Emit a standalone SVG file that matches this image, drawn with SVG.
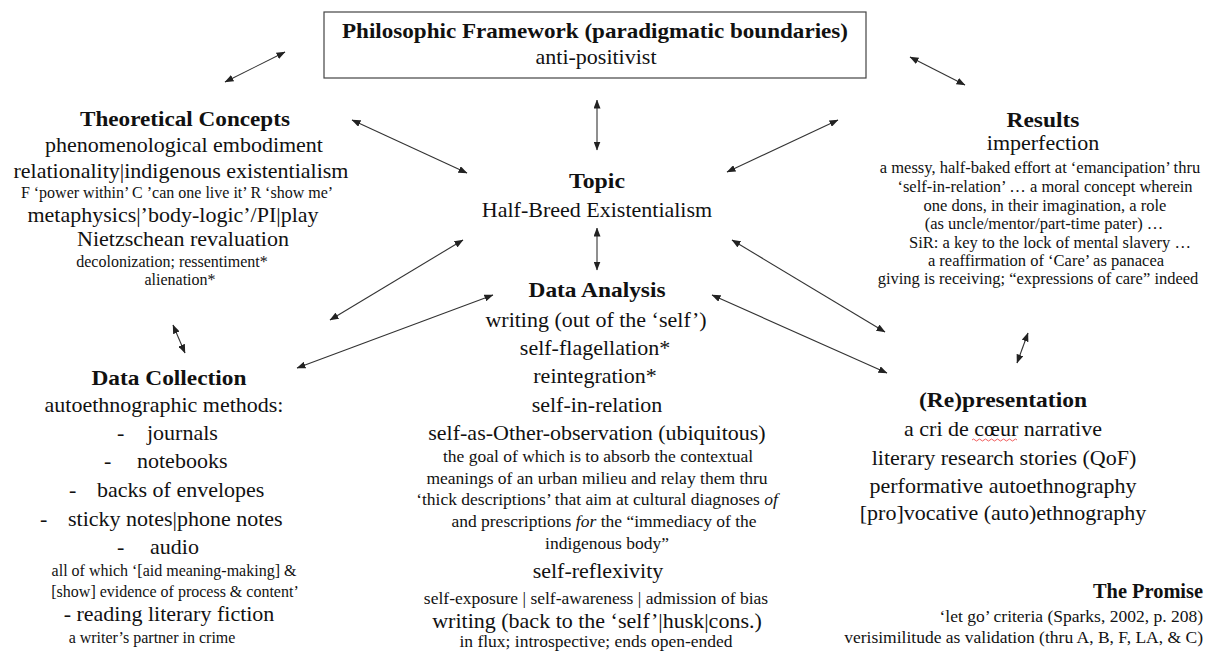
<svg xmlns="http://www.w3.org/2000/svg" width="1210" height="654" viewBox="0 0 1210 654">
<defs>
<marker id="ah" viewBox="0 0 9 7" refX="8.5" refY="3.5" markerWidth="9" markerHeight="7" markerUnits="userSpaceOnUse" orient="auto-start-reverse"><path d="M0,0 L9,3.5 L0,7 z" fill="#222"/></marker>
<style>
text{font-family:"Liberation Serif","Times New Roman",serif;fill:#111}
.t{font-size:21px;font-weight:bold;text-anchor:middle}
.L{font-size:22px;text-anchor:middle}
.s{font-size:16px;text-anchor:middle}
.sr{font-size:16.5px;text-anchor:middle}
.sd{font-size:17.5px;text-anchor:middle}
.sp{font-size:17.5px;text-anchor:end}
.r{text-anchor:end}
.Lst{font-size:22px;text-anchor:start}
.c line{stroke:#333;stroke-width:1.1;marker-start:url(#ah);marker-end:url(#ah)}
</style>
</defs>
<rect width="1210" height="654" fill="#fff"/>
<g id="framework">
<rect x="324" y="12" width="542" height="66" fill="#fff" stroke="#444" stroke-width="1.2"/>
<text class="t" x="595" y="38" textLength="506" lengthAdjust="spacingAndGlyphs">Philosophic Framework (paradigmatic boundaries)</text>
<text class="L" x="596" y="64" font-size="21">anti-positivist</text>
</g>
<g id="theoretical">
<text class="t" x="185" y="126" textLength="210" lengthAdjust="spacingAndGlyphs">Theoretical Concepts</text>
<text class="L" x="184" y="152">phenomenological embodiment</text>
<text class="L" x="181" y="178">relationality|indigenous existentialism</text>
<text class="s" x="177" y="198">F ‘power within’ C ’can one live it’ R ‘show me’</text>
<text class="L" x="173" y="222">metaphysics|’body-logic’/PI|play</text>
<text class="L" x="183" y="246">Nietzschean revaluation</text>
<text class="s" x="172" y="267">decolonization; ressentiment*</text>
<text class="s" x="180" y="285">alienation*</text>
</g>
<g id="topic">
<text class="t" x="597" y="188" textLength="56" lengthAdjust="spacingAndGlyphs">Topic</text>
<text class="L" x="597" y="217">Half-Breed Existentialism</text>
</g>
<g id="results">
<text class="t" x="1043" y="127" textLength="73" lengthAdjust="spacingAndGlyphs">Results</text>
<text class="L" x="1043" y="150">imperfection</text>
<text class="sr" x="1040" y="173">a messy, half-baked effort at ‘emancipation’ thru</text>
<text class="sr" x="1045" y="192">‘self-in-relation’ … a moral concept wherein</text>
<text class="sr" x="1045" y="211">one dons, in their imagination, a role</text>
<text class="sr" x="1044" y="229">(as uncle/mentor/part-time pater) …</text>
<text class="sr" x="1050" y="248">SiR: a key to the lock of mental slavery …</text>
<text class="sr" x="1046" y="266">a reaffirmation of ‘Care’ as panacea</text>
<text class="sr" x="1038" y="284">giving is receiving; “expressions of care” indeed</text>
</g>
<g id="data-analysis">
<text class="t" x="597" y="297" textLength="137" lengthAdjust="spacingAndGlyphs">Data Analysis</text>
<text class="L" x="596" y="327">writing (out of the ‘self’)</text>
<text class="L" x="595" y="355">self-flagellation*</text>
<text class="L" x="595" y="383">reintegration*</text>
<text class="L" x="597" y="412">self-in-relation</text>
<text class="L" x="597" y="440">self-as-Other-observation (ubiquitous)</text>
<text class="sd" x="598" y="462">the goal of which is to absorb the contextual</text>
<text class="sd" x="597" y="484">meanings of an urban milieu and relay them thru</text>
<text class="sd" x="597" y="505">‘thick descriptions’ that aim at cultural diagnoses <tspan font-style="italic">of</tspan></text>
<text class="sd" x="604" y="527">and prescriptions <tspan font-style="italic">for</tspan> the “immediacy of the</text>
<text class="sd" x="607" y="549">indigenous body”</text>
<text class="L" x="598" y="578">self-reflexivity</text>
<text class="sd" x="596" y="604">self-exposure | self-awareness | admission of bias</text>
<text class="L" x="597" y="628">writing (back to the ‘self’|husk|cons.)</text>
<text class="sd" x="596" y="647">in flux; introspective; ends open-ended</text>
</g>
<g id="data-collection">
<text class="t" x="169" y="385" textLength="155" lengthAdjust="spacingAndGlyphs">Data Collection</text>
<text class="L" x="164" y="412">autoethnographic methods:</text>
<text class="Lst" x="117" y="440">-</text><text class="Lst" x="147" y="440">journals</text>
<text class="Lst" x="104" y="468">-</text><text class="Lst" x="137" y="468">notebooks</text>
<text class="Lst" x="69" y="497">-</text><text class="Lst" x="97" y="497">backs of envelopes</text>
<text class="Lst" x="40" y="526">-</text><text class="Lst" x="68" y="526">sticky notes|phone notes</text>
<text class="Lst" x="117" y="554">-</text><text class="Lst" x="150" y="554">audio</text>
<text class="s" x="174" y="576">all of which ‘[aid meaning-making] &amp;</text>
<text class="s" x="175" y="597">[show] evidence of process &amp; content’</text>
<text class="L" x="169" y="621">- reading literary fiction</text>
<text class="s" x="152" y="643">a writer’s partner in crime</text>
</g>
<g id="representation">
<text class="t" x="1003" y="407" textLength="168" lengthAdjust="spacingAndGlyphs">(Re)presentation</text>
<text class="L" x="1003" y="436">a cri de cœur narrative</text>
<path d="M972,440 q1.5,-2 3,0 t3,0 t3,0 t3,0 t3,0 t3,0 t3,0 t3,0 t3,0 t3,0 t3,0 t3,0 t3,0 t3,0 t3,0" fill="none" stroke="#e33" stroke-width="0.8"/>
<text class="L" x="1004" y="465">literary research stories (QoF)</text>
<text class="L" x="1003" y="493">performative autoethnography</text>
<text class="L" x="1003" y="520">[pro]vocative (auto)ethnography</text>
</g>
<g id="promise">
<text class="t r" x="1203" y="598" textLength="110" lengthAdjust="spacingAndGlyphs">The Promise</text>
<text class="sp" x="1203" y="622">‘let go’ criteria (Sparks, 2002, p. 208)</text>
<text class="sp" x="1203" y="643">verisimilitude as validation (thru A, B, F, LA, &amp; C)</text>
</g>
<g id="connectors" class="c">
<line x1="225" y1="82" x2="285" y2="52"/>
<line x1="910" y1="57" x2="965" y2="85"/>
<line x1="352" y1="120" x2="467" y2="173"/>
<line x1="838" y1="120" x2="727" y2="172"/>
<line x1="597" y1="100" x2="597" y2="150"/>
<line x1="597" y1="228" x2="597" y2="270"/>
<line x1="330" y1="320" x2="463" y2="240"/>
<line x1="297" y1="368" x2="493" y2="295"/>
<line x1="173" y1="325" x2="185" y2="353"/>
<line x1="1028" y1="333" x2="1017" y2="363"/>
<line x1="712" y1="295" x2="887" y2="373"/>
<line x1="732" y1="240" x2="885" y2="332"/>
</g>
</svg>
